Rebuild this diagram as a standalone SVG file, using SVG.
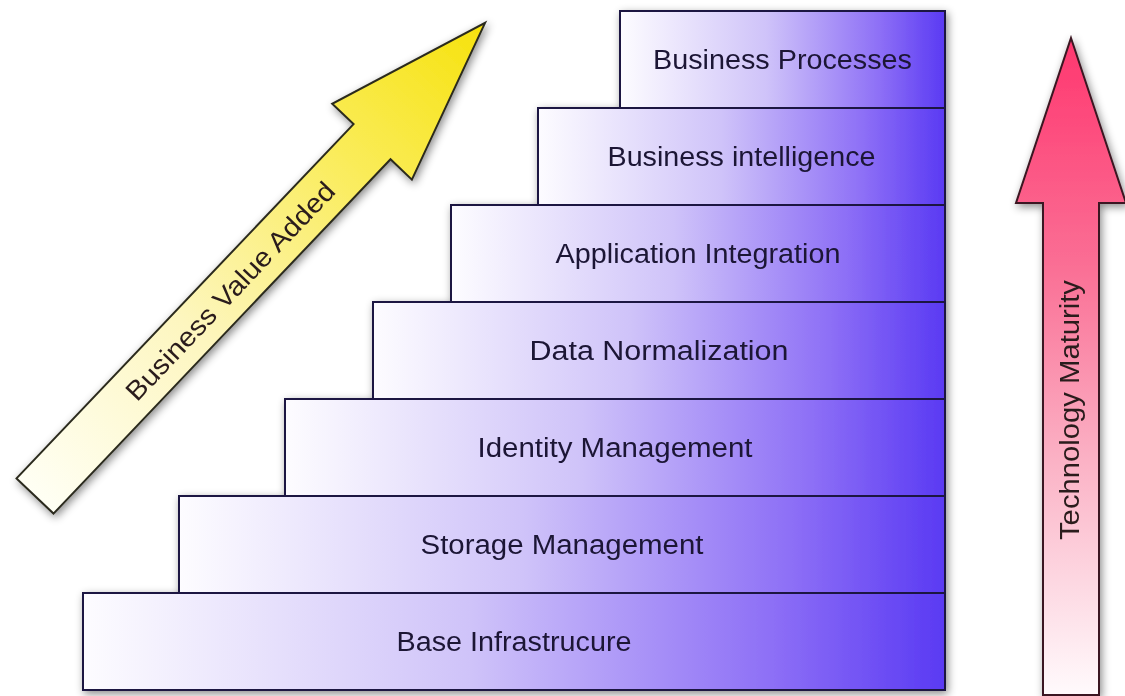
<svg xmlns="http://www.w3.org/2000/svg" width="1125" height="696" viewBox="0 0 1125 696">
  <defs>
    <linearGradient id="stepGrad" x1="0" y1="0" x2="1" y2="0">
      <stop offset="0" stop-color="#fdfcff"/>
      <stop offset="0.45" stop-color="#cfc3f9"/>
      <stop offset="0.8" stop-color="#8d6ff6"/>
      <stop offset="1" stop-color="#5a3af3"/>
    </linearGradient>
    <linearGradient id="yellowGrad" gradientUnits="userSpaceOnUse" x1="0" y1="0" x2="653" y2="0">
      <stop offset="0" stop-color="#fffff4"/>
      <stop offset="0.35" stop-color="#fdf6bf"/>
      <stop offset="0.7" stop-color="#faec5a"/>
      <stop offset="1" stop-color="#f6e20c"/>
    </linearGradient>
    <linearGradient id="pinkGrad" gradientUnits="userSpaceOnUse" x1="0" y1="38" x2="0" y2="694">
      <stop offset="0" stop-color="#ff376f"/>
      <stop offset="0.35" stop-color="#fa6f95"/>
      <stop offset="0.65" stop-color="#fbb3c6"/>
      <stop offset="1" stop-color="#fffafc"/>
    </linearGradient>
    <filter id="shadow" x="-10%" y="-10%" width="120%" height="120%">
      <feDropShadow dx="2" dy="3" stdDeviation="4" flood-color="#000" flood-opacity="0.45"/>
    </filter>
  </defs>
  <style>
    .step { fill: url(#stepGrad); stroke: #1d1842; stroke-width: 2; }
    .label { font-family: "Liberation Sans", Arial, sans-serif; font-size: 27px; fill: #1c1636; text-anchor: middle; }
    .alabel { font-family: "Liberation Sans", Arial, sans-serif; font-size: 27px; fill: #2a1c1c; text-anchor: middle; }
  </style>
  <rect width="1125" height="696" fill="#ffffff"/>

  <g id="arrow-business-value" filter="url(#shadow)">
    <g transform="translate(35,496) rotate(-46.43)">
      <polygon points="0,-25.5 489,-25.5 489,-55 653,0 489,55 489,25.5 0,25.5" fill="url(#yellowGrad)" stroke="#2b2a1e" stroke-width="2" stroke-linejoin="miter"/>
      <text class="alabel" x="283" y="9.5" textLength="290" lengthAdjust="spacingAndGlyphs">Business Value Added</text>
    </g>
  </g>

  <g id="steps" filter="url(#shadow)">
    <g id="step-business-processes">
      <rect class="step" x="620" y="11" width="325" height="97"/>
      <text class="label" x="782.5" y="68.5" textLength="259" lengthAdjust="spacingAndGlyphs">Business Processes</text>
    </g>
    <g id="step-business-intelligence">
      <rect class="step" x="538" y="108" width="407" height="97"/>
      <text class="label" x="741.5" y="165.5" textLength="268" lengthAdjust="spacingAndGlyphs">Business intelligence</text>
    </g>
    <g id="step-application-integration">
      <rect class="step" x="451" y="205" width="494" height="97"/>
      <text class="label" x="698" y="262.5" textLength="285" lengthAdjust="spacingAndGlyphs">Application Integration</text>
    </g>
    <g id="step-data-normalization">
      <rect class="step" x="373" y="302" width="572" height="97"/>
      <text class="label" x="659" y="359.5" textLength="259" lengthAdjust="spacingAndGlyphs">Data Normalization</text>
    </g>
    <g id="step-identity-management">
      <rect class="step" x="285" y="399" width="660" height="97"/>
      <text class="label" x="615" y="456.5" textLength="275" lengthAdjust="spacingAndGlyphs">Identity Management</text>
    </g>
    <g id="step-storage-management">
      <rect class="step" x="179" y="496" width="766" height="97"/>
      <text class="label" x="562" y="553.5" textLength="283" lengthAdjust="spacingAndGlyphs">Storage Management</text>
    </g>
    <g id="step-base-infrastructure">
      <rect class="step" x="83" y="593" width="862" height="97"/>
      <text class="label" x="514" y="650.5" textLength="235" lengthAdjust="spacingAndGlyphs">Base Infrastrucure</text>
    </g>
  </g>

  <g id="arrow-technology-maturity" filter="url(#shadow)">
    <polygon points="1071,38 1126,203 1099,203 1099,695 1043,695 1043,203 1016,203" fill="url(#pinkGrad)" stroke="#3a1820" stroke-width="2" stroke-linejoin="miter"/>
    <text class="alabel" transform="translate(1079,410) rotate(-90)" x="0" y="0" textLength="260" lengthAdjust="spacingAndGlyphs">Technology Maturity</text>
  </g>

  <g id="connectors"></g>
</svg>
